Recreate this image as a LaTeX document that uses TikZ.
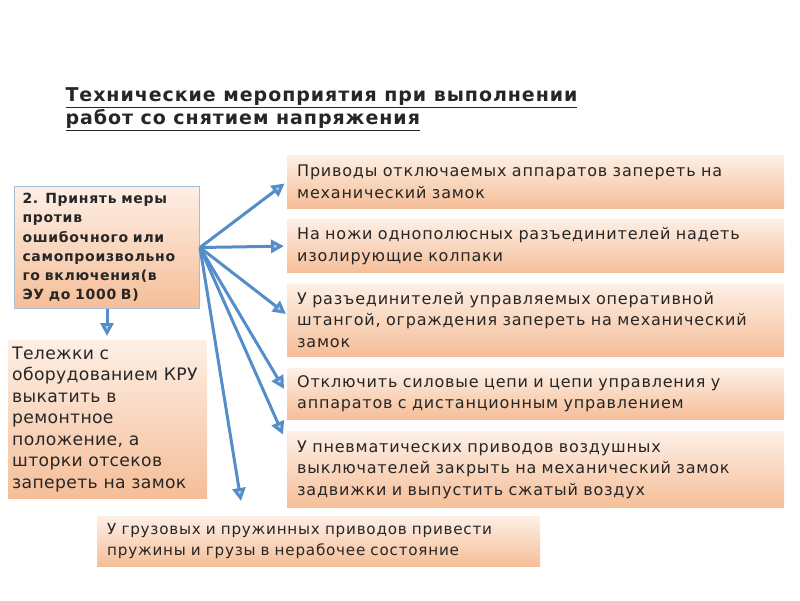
\documentclass[tikz,border=0pt]{standalone}
\usepackage{fontspec}
\setmainfont{DejaVu Sans}
\newfontfamily\wide[LetterSpace=5]{DejaVu Sans}
\newfontfamily\halfwide[LetterSpace=2]{DejaVu Sans}
\newfontfamily\widebold[LetterSpace=5]{DejaVu Sans Bold}
\usepackage{tikz}
\usetikzlibrary{arrows.meta,positioning,calc}
\definecolor{peachtop}{RGB}{253,239,229}
\definecolor{peachbot}{RGB}{245,190,152}
\definecolor{frameblue}{RGB}{165,190,215}
\definecolor{arrowblue}{RGB}{84,142,202}
\definecolor{arrowfill}{RGB}{185,212,238}
\definecolor{ink}{RGB}{38,38,38}

\begin{document}
\begin{tikzpicture}[
      x=1pt,y=-1pt,
      text=ink,
      box/.style={top color=peachtop,bottom color=peachbot,draw=none,
                  anchor=north west,align=left,inner xsep=7pt,inner ysep=4pt},
      item/.style={box,text width=477pt,minimum height=53pt,inner xsep=10pt,
                   font=\wide\fontsize{16}{21.5}\selectfont},
      ar/.style={-{Triangle[length=13pt,width=13pt,fill=arrowfill]},line width=3pt,color=arrowblue}]
      \useasboundingbox (0,0) rectangle (800,600);
      \node[anchor=north west,align=left,font=\widebold\fontsize{19}{23}\selectfont] (title) at (62,84)
        {\underline{Технические мероприятия при выполнении}\\\underline{работ со снятием напряжения}};
      \node[box,draw=frameblue,line width=1pt,text width=169pt,minimum height=122pt,inner xsep=8pt,
            font=\widebold\fontsize{14}{19.3}\selectfont] (main) at (14,186)
        {2. Принять меры\\против\\ошибочного или\\самопроизвольно\\го включения(в\\ЭУ до 1000 В)};
      \node[box,text width=191pt,minimum height=158pt,inner xsep=4pt,
            font=\halfwide\fontsize{17.2}{21.5}\selectfont] (cart) at (8,340)
        {Тележки с\\оборудованием КРУ\\выкатить в\\ремонтное\\положение, а\\шторки отсеков\\запереть на замок};
      \node[item] (lock) at (287,155) {Приводы отключаемых аппаратов запереть на\\механический замок};
      \node[item,below=11pt of lock] (caps) {На ножи однополюсных разъединителей надеть\\изолирующие колпаки};
      \node[item,below=11pt of caps,minimum height=72pt] (rod)
        {У разъединителей управляемых оперативной\\штангой, ограждения запереть на механический\\замок};
      \node[item,below=12pt of rod,minimum height=51pt] (remote)
        {Отключить силовые цепи и цепи управления у\\аппаратов с дистанционным управлением};
      \node[item,text width=423pt,minimum height=50pt,font=\wide\fontsize{15.2}{21}\selectfont] (spring) at (97,516)
        {У грузовых и пружинных приводов привести\\пружины и грузы в нерабочее состояние};
      \node[item,below=12pt of remote,minimum height=76pt] (pneum)
        {У пневматических приводов воздушных\\выключателей закрыть на механический замок\\задвижки и выпустить сжатый воздух};
      \coordinate (pneumin) at ($(pneum.north west)+(-4,3)$);
      \coordinate (springin) at ($(spring.north west)+(144,-15)$);
      \draw[ar] (main.south) -- ++(0,27) coordinate (cartin);
      \draw[ar,shorten >=3pt] (main.east) -- (lock.west);
      \draw[ar,shorten >=3pt] (main.east) -- (caps.west);
      \draw[ar] (main.east) -- ($(rod.west)+(-1,-6)$);
      \draw[ar] (main.east) -- ($(remote.west)+(-3,-5)$);
      \draw[ar] (main.east) -- (pneumin);
      \draw[ar] (main.east) -- (springin);
    \end{tikzpicture}
\end{document}
